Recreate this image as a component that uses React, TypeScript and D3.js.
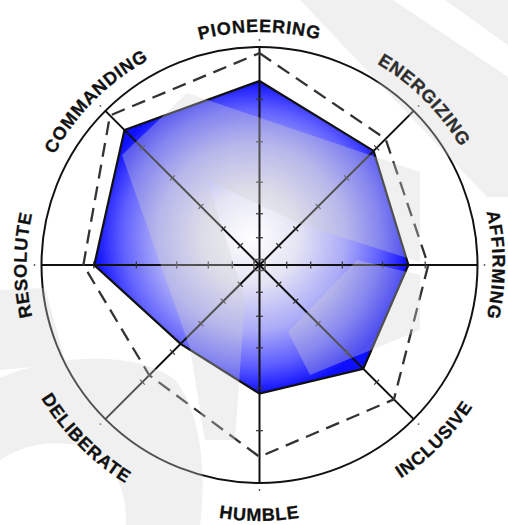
import React from "react";
import * as d3 from "d3";

const categories = ["PIONEERING", "ENERGIZING", "AFFIRMING", "INCLUSIVE", "HUMBLE", "DELIBERATE", "RESOLUTE", "COMMANDING"];
const currentValues = [84.4, 74, 68.3, 67.3, 59, 51.2, 75.8, 87.6];
const comparisonValues = [97.2, 81.8, 77.4, 87.2, 88, 71.5, 80.8, 97];
const tickValues = [12.5, 23.5, 38, 56.5, 76];
const bottomLabels = ["INCLUSIVE", "HUMBLE", "DELIBERATE"];

const W = 508;
const H = 525;
const cx = 259.5;
const cy = 265;
const R = 218;

export default function App() {
  const r = d3.scaleLinear().domain([0, 100]).range([0, R]);
  const step = (2 * Math.PI) / categories.length;
  const ang = (i: number) => i * step;
  const pt = (a: number, rad: number): [number, number] => [Math.sin(a) * rad, -Math.cos(a) * rad];

  const line = d3
    .lineRadial<number>()
    .angle((_, i) => ang(i))
    .radius((d) => r(d))
    .curve(d3.curveLinearClosed);

  const rTop = 233;
  const rBot = 256;
  const span = (62 * Math.PI) / 180;

  const labelPath = (i: number, bottom: boolean) => {
    const a = ang(i);
    if (!bottom) {
      const [x0, y0] = pt(a - span, rTop);
      const [x1, y1] = pt(a + span, rTop);
      return `M${x0},${y0} A${rTop},${rTop} 0 0 1 ${x1},${y1}`;
    }
    const [x0, y0] = pt(a + span, rBot);
    const [x1, y1] = pt(a - span, rBot);
    return `M${x0},${y0} A${rBot},${rBot} 0 0 0 ${x1},${y1}`;
  };

  return (
    <svg width={W} height={H} style={{ position: "absolute", left: 0, top: 0 }} xmlns="http://www.w3.org/2000/svg">
      <defs>
        <radialGradient id="fillGrad">
          <stop offset="0" stopColor="#ffffff" />
          <stop offset="0.3" stopColor="#e4e4f4" />
          <stop offset="0.6" stopColor="#aaaaf8" />
          <stop offset="0.82" stopColor="#6060ff" />
          <stop offset="1" stopColor="#0f0fff" />
        </radialGradient>
        {categories.map((c, i) => (
          <path key={c} id={`lp${i}`} d={labelPath(i, bottomLabels.includes(c))} transform={`translate(${cx},${cy})`} />
        ))}
      </defs>
      <rect x={0} y={0} width={W} height={H} fill="#ffffff" />
      <g transform={`translate(${cx},${cy})`}>
        <circle r={R} fill="#ffffff" stroke="#111" strokeWidth={2} />
        <path d={line(currentValues) || ""} fill="url(#fillGrad)" stroke="none" />
        {categories.map((c, i) => {
          const [x, y] = pt(ang(i), R);
          const [dx, dy] = pt(ang(i), R + 7);
          return (
            <g key={c}>
              <line x1={0} y1={0} x2={x} y2={y} stroke="#111" strokeWidth={2} />
              <circle cx={dx} cy={dy} r={0.9} fill="#555" />
            </g>
          );
        })}
        {categories.map((c, i) =>
          tickValues.map((t) => {
            const a = ang(i);
            const [x, y] = pt(a, r(t));
            const px = Math.cos(a) * 3.5;
            const py = Math.sin(a) * 3.5;
            return <line key={`${c}-${t}`} x1={x - px} y1={y - py} x2={x + px} y2={y + py} stroke="#333" strokeWidth={1.2} />;
          })
        )}
        <path d={line(currentValues) || ""} fill="none" stroke="#111" strokeWidth={2.2} strokeLinejoin="miter" />
        <path d={line(comparisonValues) || ""} fill="none" stroke="#333" strokeWidth={2.3} strokeDasharray="14,8" />
        <rect x={-5.5} y={-5.5} width={11} height={11} rx={2} fill="none" stroke="#555" strokeWidth={1.5} />
      </g>
      <g fill="#d2d2d2" opacity={0.33}>
        <polygon points="300,0 393,0 508,77 508,197 487,197" />
        <polygon points="445,0 508,0 508,45" />
        <path d="M0,290 L45,288 L66,364 L0,370 Z" />
        <path d="M0,378 C60,352 140,352 175,380 C200,410 207,470 200,525 L126,525 C128,490 112,455 80,446 C45,438 18,448 0,460 Z" />
        <polygon points="122,155 187,93 420,172 420,262 303,225 207,180 245,300 235,440 205,440 190,348" />
        <polygon points="288,332 357,260 420,275 420,330 310,375" />
      </g>
      {categories.map((c, i) => (
        <text
          key={c}
          fontFamily="'Liberation Sans', Arial, sans-serif"
          fontWeight="bold"
          fontSize={18}
          letterSpacing={0.8}
          fill={c === "ENERGIZING" ? "#2e2e2e" : "#111"}
          stroke={c === "ENERGIZING" ? "#2e2e2e" : "#111"}
          strokeWidth={0.3}
        >
          <textPath href={`#lp${i}`} startOffset="50%" textAnchor="middle">
            {c}
          </textPath>
        </text>
      ))}
    </svg>
  );
}
